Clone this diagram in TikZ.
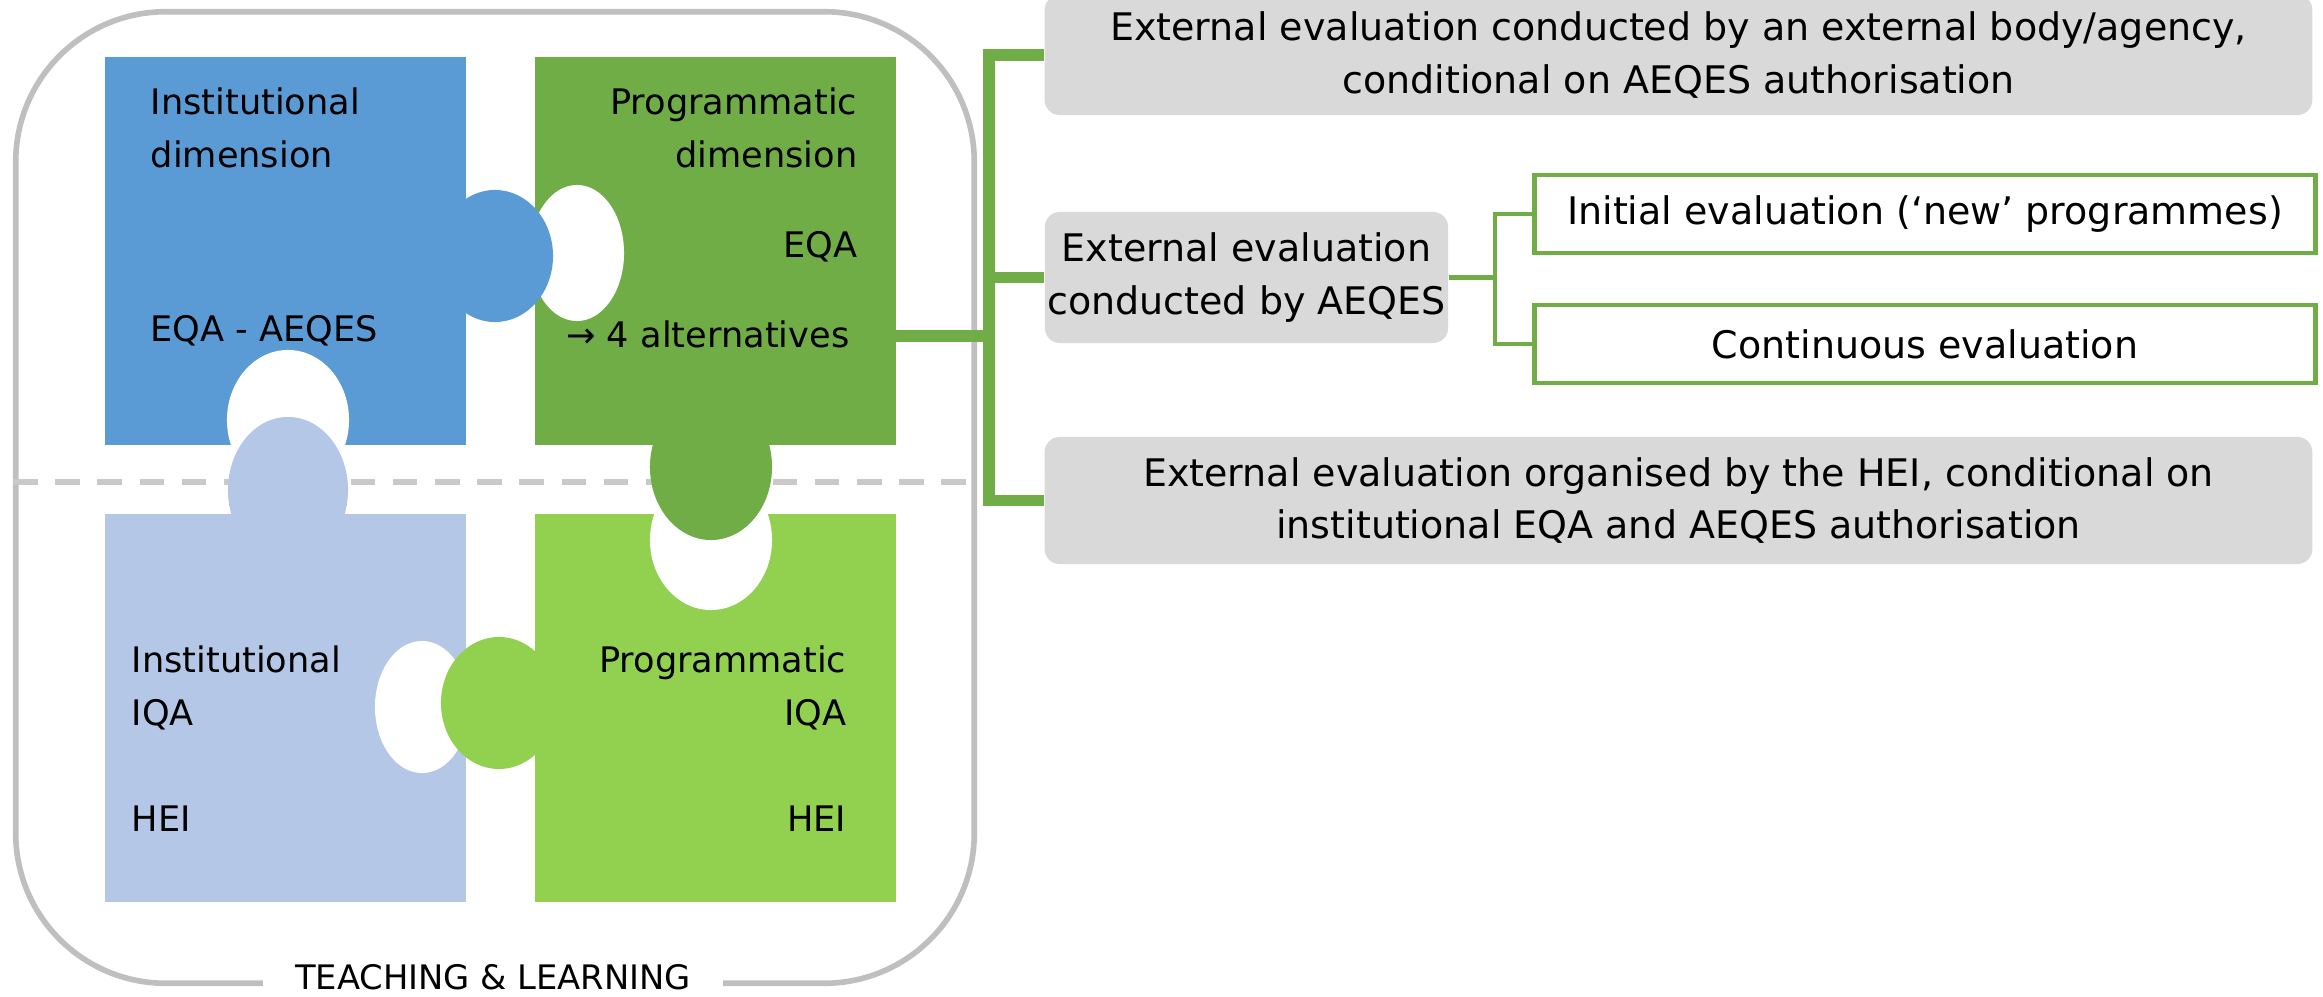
\documentclass[tikz,border=0pt]{standalone}
\usepackage{fontspec}
\setmainfont{DejaVu Sans}
\usetikzlibrary{positioning}
\definecolor{instblue}{HTML}{5B9BD5}
\definecolor{progdark}{HTML}{70AD47}
\definecolor{instpale}{HTML}{B4C7E7}
\definecolor{proglight}{HTML}{92D050}
\definecolor{boxgray}{HTML}{D9D9D9}
\definecolor{framegray}{HTML}{BFBFBF}
\definecolor{dashgray}{HTML}{C9C9C9}

\begin{document}
\begin{tikzpicture}[x=0.01cm,y=-0.01cm,node distance=0.67cm,
                    font=\fontsize{10pt}{15pt}\selectfont]
  \tikzstyle{piece}=[minimum width=3.61cm,minimum height=3.88cm,inner sep=0pt]
  \tikzstyle{lbl}=[inner sep=0pt]
  \tikzstyle{greybox}=[fill=boxgray,rounded corners=0.15cm,align=center,inner sep=0pt,
                       font=\fontsize{10.8pt}{15pt}\selectfont]
  \tikzstyle{subbox}=[draw=progdark,line width=1.4pt,fill=white,minimum width=7.8cm,
                      minimum height=0.78cm,inner sep=0pt,font=\fontsize{10.8pt}{15pt}\selectfont]
  \tikzstyle{bracket}=[draw=progdark,line width=3.4pt]
  \tikzstyle{twig}=[draw=progdark,line width=1.4pt]

  \useasboundingbox (0,0) rectangle (2323,997);

  \node[draw=framegray,line width=1.6pt,rounded corners=1.5cm,
        minimum width=9.58cm,minimum height=9.71cm] (frame) at (495,497.5) {};
  \draw[dashgray,line width=1.7pt,dash pattern=on 7pt off 5pt]
        (frame.west |- 0,482) -- (frame.east |- 0,482);

  \node[piece,fill=instblue]                   (instdim) at (285.5,251) {};
  \node[piece,fill=progdark,right=of instdim]  (progdim) {};
  \node[piece,fill=instpale,below=of instdim]  (instiqa) {};
  \node[piece,fill=proglight,below=of progdim] (progiqa) {};

  % holes first, then the knobs over them
  \fill[white] (577,253) ellipse [x radius=0.47cm,y radius=0.68cm];
  \fill[white] (288,420) ellipse [x radius=0.61cm,y radius=0.70cm];
  \fill[white] (711,540) ellipse [x radius=0.61cm,y radius=0.70cm];
  \fill[white] (422,707) ellipse [x radius=0.47cm,y radius=0.66cm];
  \fill[instblue]  (495,256) ellipse [x radius=0.58cm,y radius=0.66cm];
  \fill[instpale]  (288,490) ellipse [x radius=0.60cm,y radius=0.73cm];
  \fill[progdark]  (711,467) ellipse [x radius=0.61cm,y radius=0.73cm];
  \fill[proglight] (499,703) ellipse [x radius=0.58cm,y radius=0.66cm];

  \node[lbl,anchor=north west,align=left]  (instdimtxt) at (150,87)  {Institutional\\dimension};
  \node[lbl,anchor=north west]             (instdimeqa) at (150,315) {EQA - AEQES};
  \node[lbl,anchor=north east,align=right] (progdimtxt) at (858,87)  {Programmatic\\dimension};
  \node[lbl,anchor=north east]             (progdimeqa) at (858,231) {EQA};
  \node[lbl,anchor=north east]             (progalt)    at (850,320) {→ 4 alternatives};
  \node[lbl,anchor=north west,align=left]  (instiqatxt) at (131,645) {Institutional\\IQA};
  \node[lbl,anchor=north west]             (instiqahei) at (131,805) {HEI};
  \node[lbl,anchor=north east,align=right] (progiqatxt) at (847,645) {Programmatic\\IQA};
  \node[lbl,anchor=north east]             (progiqahei) at (847,805) {HEI};

  \node[fill=white,inner xsep=9pt,inner ysep=0pt,font=\fontsize{9.6pt}{12pt}\selectfont]
        (teachlearn) at (493,977) {TEACHING \& LEARNING};

  \node[greybox,minimum width=12.67cm,minimum height=1.2cm] (extbody) at (1678.5,55)
        {External evaluation conducted by an external body/agency,\\conditional on AEQES authorisation};
  \node[greybox,minimum width=4.03cm,minimum height=1.31cm] (extaeqes) at (1246.5,277.5)
        {External evaluation\\conducted by AEQES};
  \node[greybox,minimum width=12.67cm,minimum height=1.27cm] (exthei) at (1678.5,500.5)
        {External evaluation organised by the HEI, conditional on\\institutional EQA and AEQES authorisation};
  \node[subbox] (initial)    at (1925,214) {Initial evaluation (‘new’ programmes)};
  \node[subbox] (continuous) at (1925,344) {Continuous evaluation};

  \coordinate (spine) at (989,336);
  \coordinate (fork)  at (1495,277.5);
  \draw[bracket] (progdim.east |- spine) -- (spine);
  \draw[bracket] (extbody.west) -- (extbody.west -| spine) -- (exthei.west -| spine) -- (exthei.west);
  \draw[bracket] (extaeqes.west) -- (extaeqes.west -| spine);
  \draw[twig] (extaeqes.east) -- (fork);
  \draw[twig] (initial.west) -| (fork) |- (continuous.west);
\end{tikzpicture}
\end{document}
